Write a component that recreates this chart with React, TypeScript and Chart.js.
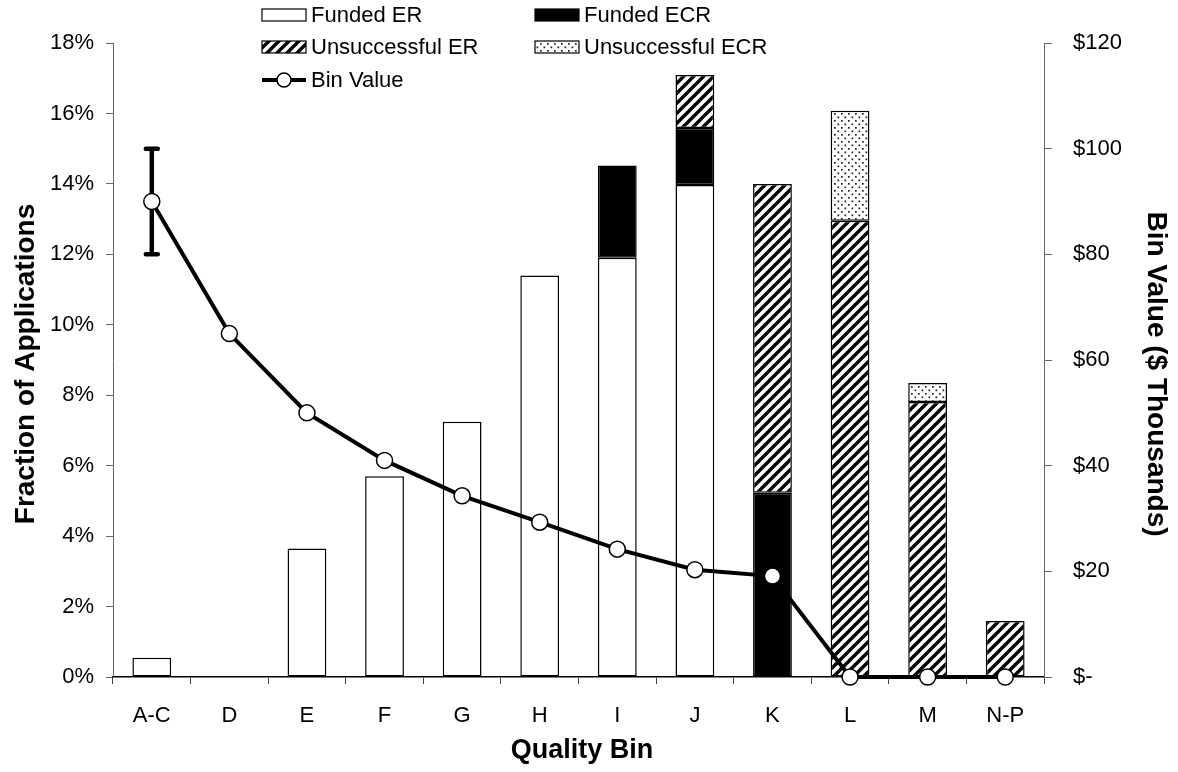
import React, { useEffect, useRef } from "react";
import { Chart, registerables } from "chart.js";

Chart.register(...registerables);

const categories = ["A-C", "D", "E", "F", "G", "H", "I", "J", "K", "L", "M", "N-P"];
const fundedER = [0.55, null, 3.65, 5.7, 7.25, 11.4, 11.9, 13.97, null, null, null, null];
const fundedECR = [null, null, null, null, null, null, 2.62, 1.62, 5.23, null, null, null];
const unsuccessfulER = [null, null, null, null, null, null, null, 1.5, 8.77, 12.95, 7.81, 1.59];
const unsuccessfulECR = [null, null, null, null, null, null, null, null, null, 3.13, 0.54, null];
const binValue = [90, 65, 50, 41, 34.3, 29.3, 24.2, 20.3, 19.1, 0, 0, 0];
const binValueError = [10, null, null, null, null, null, null, null, null, null, null, null];
const leftTicks = [0, 2, 4, 6, 8, 10, 12, 14, 16, 18];
const rightTicks = [0, 20, 40, 60, 80, 100, 120];

const FONT = "'Liberation Sans', Arial, sans-serif";

function makeHatch(): CanvasPattern | string {
  const c = document.createElement("canvas");
  const s = 10;
  c.width = s;
  c.height = s;
  const g = c.getContext("2d");
  if (!g) return "#888";
  g.fillStyle = "#fff";
  g.fillRect(0, 0, s, s);
  g.strokeStyle = "#000";
  g.lineWidth = 3.4;
  g.beginPath();
  g.moveTo(-s, 2 * s);
  g.lineTo(2 * s, -s);
  g.moveTo(-s, s);
  g.lineTo(s, -s);
  g.moveTo(0, 2 * s);
  g.lineTo(2 * s, 0);
  g.stroke();
  const p = g.createPattern(c, "repeat");
  return p || "#888";
}

function makeDots(): CanvasPattern | string {
  const c = document.createElement("canvas");
  const s = 7;
  c.width = s;
  c.height = s;
  const g = c.getContext("2d");
  if (!g) return "#ddd";
  g.fillStyle = "#fff";
  g.fillRect(0, 0, s, s);
  g.fillStyle = "#222";
  g.fillRect(1, 1, 1.7, 1.7);
  g.fillRect(4.5, 4.5, 1.7, 1.7);
  const p = g.createPattern(c, "repeat");
  return p || "#ddd";
}

export default function App() {
  const ref = useRef<HTMLCanvasElement | null>(null);

  useEffect(() => {
    document.body.style.margin = "0";
    const canvas = ref.current;
    if (!canvas) return;
    const hatch = makeHatch();
    const dots = makeDots();

    const errorBarPlugin = {
      id: "errorBars",
      beforeDatasetDraw(chart: any, args: any) {
        if (args.index !== 4) return;
        const meta = chart.getDatasetMeta(4);
        const ys = chart.scales.y1;
        const ctx = chart.ctx;
        ctx.save();
        ctx.strokeStyle = "#000";
        ctx.lineWidth = 4.5;
        ctx.lineCap = "round";
        binValueError.forEach((e, i) => {
          if (e == null) return;
          const x = meta.data[i].x;
          const yTop = ys.getPixelForValue(binValue[i] + e);
          const yBot = ys.getPixelForValue(binValue[i] - e);
          ctx.beginPath();
          ctx.moveTo(x, yTop);
          ctx.lineTo(x, yBot);
          ctx.moveTo(x - 6, yTop);
          ctx.lineTo(x + 6, yTop);
          ctx.moveTo(x - 6, yBot);
          ctx.lineTo(x + 6, yBot);
          ctx.stroke();
        });
        ctx.restore();
      },
    };

    const decorPlugin = {
      id: "decor",
      afterDraw(chart: any) {
        const ctx = chart.ctx;
        ctx.save();
        ctx.fillStyle = "#000";
        // axis titles
        ctx.textAlign = "center";
        ctx.textBaseline = "middle";
        ctx.font = `bold 27px ${FONT}`;
        ctx.fillText("Quality Bin", 582, 751);
        ctx.font = `bold 28px ${FONT}`;
        ctx.save();
        ctx.translate(26, 364);
        ctx.rotate(-Math.PI / 2);
        ctx.fillText("Fraction of Applications", 0, 0);
        ctx.restore();
        ctx.save();
        ctx.translate(1156, 374);
        ctx.rotate(Math.PI / 2);
        ctx.fillText("Bin Value ($ Thousands)", 0, 0);
        ctx.restore();

        // legend
        ctx.font = `22px ${FONT}`;
        ctx.textAlign = "left";
        ctx.textBaseline = "middle";
        const items = [
          { x: 262, y: 15, label: "Funded ER", kind: "white" },
          { x: 535, y: 15, label: "Funded ECR", kind: "black" },
          { x: 262, y: 47, label: "Unsuccessful ER", kind: "hatch" },
          { x: 535, y: 47, label: "Unsuccessful ECR", kind: "dots" },
          { x: 262, y: 80, label: "Bin Value", kind: "line" },
        ];
        const w = 44;
        const h = 12;
        items.forEach((it) => {
          if (it.kind === "line") {
            ctx.strokeStyle = "#000";
            ctx.lineWidth = 4;
            ctx.beginPath();
            ctx.moveTo(it.x, it.y);
            ctx.lineTo(it.x + w, it.y);
            ctx.stroke();
            ctx.beginPath();
            ctx.arc(it.x + w / 2, it.y, 7, 0, Math.PI * 2);
            ctx.fillStyle = "#fff";
            ctx.fill();
            ctx.lineWidth = 1.5;
            ctx.stroke();
          } else {
            ctx.fillStyle =
              it.kind === "white" ? "#fff" : it.kind === "black" ? "#000" : it.kind === "hatch" ? hatch : dots;
            ctx.fillRect(it.x, it.y - h / 2, w, h);
            ctx.strokeStyle = "#000";
            ctx.lineWidth = 1.2;
            ctx.strokeRect(it.x, it.y - h / 2, w, h);
          }
          ctx.fillStyle = "#000";
          ctx.fillText(it.label, it.x + w + 5, it.y + 1);
        });
        ctx.restore();
      },
    };

    const barCommon = {
      type: "bar" as const,
      yAxisID: "y",
      borderColor: "#000",
      borderWidth: 1.5,
      borderSkipped: false as const,
      barPercentage: 0.5,
      categoryPercentage: 1,
      stack: "s",
      order: 1,
    };

    const chart = new Chart(canvas, {
      data: {
        labels: categories,
        datasets: [
          { ...barCommon, label: "Funded ER", data: fundedER, backgroundColor: "#fff" },
          { ...barCommon, label: "Funded ECR", data: fundedECR, backgroundColor: "#000" },
          { ...barCommon, label: "Unsuccessful ER", data: unsuccessfulER, backgroundColor: hatch as any },
          { ...barCommon, label: "Unsuccessful ECR", data: unsuccessfulECR, backgroundColor: dots as any },
          {
            type: "line" as const,
            label: "Bin Value",
            data: binValue,
            yAxisID: "y1",
            borderColor: "#000",
            borderWidth: 4,
            tension: 0,
            pointRadius: 8,
            pointBackgroundColor: "#fff",
            pointBorderColor: "#000",
            pointBorderWidth: 1.5,
            clip: false as any,
            order: 0,
          },
        ],
      } as any,
      options: {
        responsive: false,
        animation: false,
        layout: { padding: { top: 43, left: 0, right: 0, bottom: 0 } },
        plugins: { legend: { display: false }, tooltip: { enabled: false } },
        scales: {
          x: {
            stacked: true,
            grid: {
              display: true,
              offset: true,
              drawOnChartArea: false,
              drawTicks: true,
              tickLength: 7,
              color: "#444",
            },
            border: { display: true, color: "#000", width: 1.5 },
            ticks: { color: "#000", font: { size: 22, family: FONT }, padding: 19 },
            afterFit: (s: any) => {
              s.height = 95;
            },
          },
          y: {
            position: "left",
            stacked: true,
            min: 0,
            max: 18,
            afterBuildTicks: (s: any) => {
              s.ticks = leftTicks.map((v) => ({ value: v }));
            },
            grid: { display: true, drawOnChartArea: false, drawTicks: true, tickLength: 7, color: "#666" },
            border: { display: true, color: "#666", width: 1 },
            ticks: {
              color: "#000",
              font: { size: 22, family: FONT },
              padding: 12,
              callback: (v: any) => `${v}%`,
            },
            afterFit: (s: any) => {
              s.width = 113;
            },
          },
          y1: {
            position: "right",
            min: 0,
            max: 120,
            afterBuildTicks: (s: any) => {
              s.ticks = rightTicks.map((v) => ({ value: v }));
            },
            grid: { display: true, drawOnChartArea: false, drawTicks: true, tickLength: 8, color: "#666" },
            border: { display: true, color: "#666", width: 1 },
            ticks: {
              color: "#000",
              font: { size: 22, family: FONT },
              padding: 21,
              callback: (v: any) => (v === 0 ? "$-" : `$${v}`),
            },
            afterFit: (s: any) => {
              s.width = 134;
            },
          },
        },
      } as any,
      plugins: [errorBarPlugin, decorPlugin],
    });

    return () => {
      chart.destroy();
    };
  }, []);

  return (
    <div style={{ width: 1178, height: 772, position: "relative", background: "#fff" }}>
      <canvas ref={ref} width={1178} height={772} style={{ display: "block" }} />
    </div>
  );
}
